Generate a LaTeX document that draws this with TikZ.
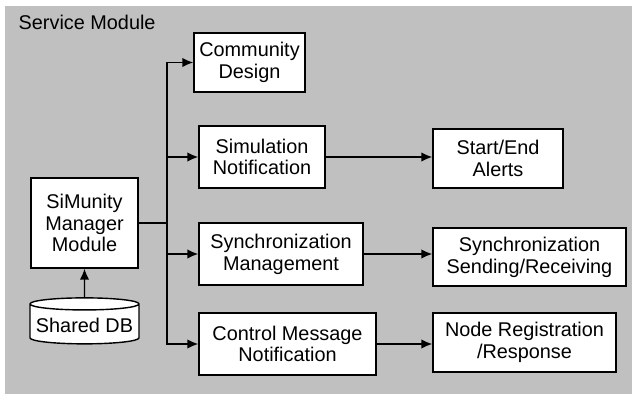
\documentclass[tikz,border=0pt]{standalone}
\usepackage{fontspec}
\setmainfont{Liberation Sans}
\usetikzlibrary{shapes.geometric, arrows.meta}
\definecolor{panelgrey}{RGB}{192,192,192}

\begin{document}
\begin{tikzpicture}[line width=0.8pt, >={Latex[length=2.2mm, width=1.9mm]},
    module/.style = {rectangle, draw, fill=white, align=center, inner sep=1pt,
                     font=\fontsize{11.3}{12.4}\selectfont}]
  % Panel.
  \useasboundingbox (0, 0) rectangle (12.64, 7.88);
  \fill [panelgrey] (0.1, 0) rectangle (12.64, 7.76);
  \node at (0.36, 7.44) [anchor=west, inner sep=0pt, font=\fontsize{11.3}{12.4}\selectfont,
                         name=ServiceModule] {Service Module};

  % Modules.
  \node at (1.69, 3.42) [module, minimum width=2.14cm, minimum height=1.8cm, name=Manager] {SiMunity\\Manager\\Module};
  \node at (1.69, 1.38) [module, cylinder, shape border rotate=90, aspect=0.12,
                         minimum width=2.18cm, minimum height=0.92cm, name=SharedDB] {Shared DB};
  \node at (4.99, 6.63) [module, minimum width=2.22cm, minimum height=1.18cm, name=Community] {Community\\Design};
  \node at (5.24, 4.74) [module, minimum width=2.52cm, minimum height=1.24cm, name=Simulation] {Simulation\\Notification};
  \node at (5.62, 2.80) [module, minimum width=3.28cm, minimum height=1.24cm, name=SyncManagement] {Synchronization\\Management};
  \node at (5.75, 1.00) [module, minimum width=3.54cm, minimum height=1.24cm, name=Control] {Control Message\\Notification};
  \node at (9.96, 4.71) [module, minimum width=2.60cm, minimum height=1.18cm, name=Alerts] {Start/End\\Alerts};
  \node at (10.59, 2.74) [module, minimum width=3.86cm, minimum height=1.16cm, name=SyncSending] {Synchronization\\Sending/Receiving};
  \node at (10.49, 1.03) [module, minimum width=3.66cm, minimum height=1.18cm, name=Registration] {Node Registration\\/Response};

  % Location for branch from the manager to the services.
  \coordinate (branch) at (3.34, 3.42);

  % Manager to services.
  \draw (Manager.east) -- (branch);
  \draw [->] (branch) |- (Community.west);
  \draw [->] (branch) |- (Simulation.west);
  \draw [->] (branch) |- (SyncManagement.west);
  \draw [->] (branch) |- (Control.west);

  % Database.
  \draw [->] (SharedDB) to (Manager);

  % Services to actions.
  \draw [->] (Simulation.east) -- (Alerts.west |- Simulation.east);
  \draw [->] (SyncManagement.east) -- (SyncSending.west |- SyncManagement.east);
  \draw [->] (Control.east) -- (Registration.west |- Control.east);
\end{tikzpicture}
\end{document}
